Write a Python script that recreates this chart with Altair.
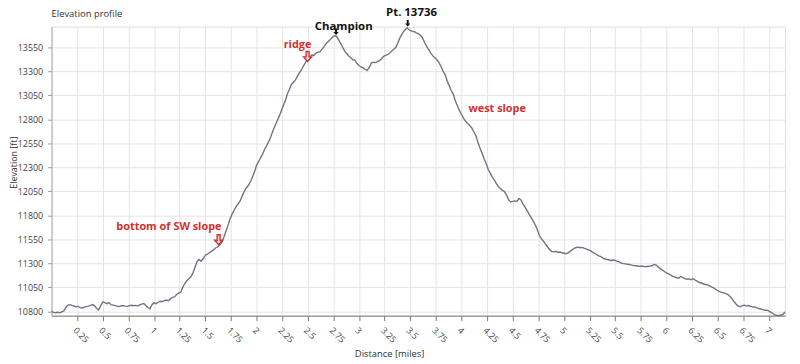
import altair as alt
import pandas as pd

# ---- elevation profile (miles, feet) ----
dist = [
    0.00, 0.02, 0.04, 0.06, 0.08, 0.10, 0.12, 0.14, 0.16, 0.18, 0.20, 0.22, 0.24, 0.26, 0.28,
    0.30, 0.32, 0.34, 0.36, 0.38, 0.40, 0.42, 0.44, 0.46, 0.48, 0.50, 0.52, 0.54, 0.56, 0.58,
    0.60, 0.62, 0.64, 0.66, 0.68, 0.70, 0.72, 0.74, 0.76, 0.78, 0.80, 0.82, 0.84, 0.86, 0.88,
    0.90, 0.92, 0.94, 0.96, 0.98, 1.00, 1.02, 1.04, 1.06, 1.08, 1.10, 1.12, 1.14, 1.16, 1.18,
    1.20, 1.22, 1.24, 1.26, 1.28, 1.30, 1.32, 1.34, 1.36, 1.38, 1.40, 1.42, 1.44, 1.46, 1.48,
    1.50, 1.52, 1.54, 1.56, 1.58, 1.60, 1.62, 1.64, 1.66, 1.68, 1.70, 1.72, 1.74, 1.76, 1.78,
    1.80, 1.82, 1.84, 1.86, 1.88, 1.90, 1.92, 1.94, 1.96, 1.98, 2.00, 2.02, 2.04, 2.06, 2.08,
    2.10, 2.12, 2.14, 2.16, 2.18, 2.20, 2.22, 2.24, 2.26, 2.28, 2.30, 2.32, 2.34, 2.36, 2.38,
    2.40, 2.42, 2.44, 2.46, 2.48, 2.50, 2.52, 2.54, 2.56, 2.58, 2.60, 2.62, 2.64, 2.66, 2.68,
    2.70, 2.72, 2.74, 2.76, 2.78, 2.80, 2.82, 2.84, 2.86, 2.88, 2.90, 2.92, 2.94, 2.96, 2.98,
    3.00, 3.02, 3.04, 3.06, 3.08, 3.10, 3.12, 3.14, 3.16, 3.18, 3.20, 3.22, 3.24, 3.26, 3.28,
    3.30, 3.32, 3.34, 3.36, 3.38, 3.40, 3.42, 3.44, 3.46, 3.47, 3.48, 3.50, 3.52, 3.54, 3.56,
    3.58, 3.60, 3.62, 3.64, 3.66, 3.68, 3.70, 3.72, 3.74, 3.76, 3.78, 3.80, 3.82, 3.84, 3.86,
    3.88, 3.90, 3.92, 3.94, 3.96, 3.98, 4.00, 4.02, 4.04, 4.06, 4.08, 4.10, 4.12, 4.14, 4.16,
    4.18, 4.20, 4.22, 4.24, 4.26, 4.28, 4.30, 4.32, 4.34, 4.36, 4.38, 4.40, 4.42, 4.44, 4.46,
    4.48, 4.50, 4.52, 4.54, 4.56, 4.58, 4.60, 4.62, 4.64, 4.66, 4.68, 4.70, 4.72, 4.74, 4.76,
    4.78, 4.80, 4.82, 4.84, 4.86, 4.88, 4.90, 4.92, 4.94, 4.96, 4.98, 5.00, 5.02, 5.04, 5.06,
    5.08, 5.10, 5.12, 5.14, 5.16, 5.18, 5.20, 5.22, 5.24, 5.26, 5.28, 5.30, 5.32, 5.34, 5.36,
    5.38, 5.40, 5.42, 5.44, 5.46, 5.48, 5.50, 5.52, 5.54, 5.56, 5.58, 5.60, 5.62, 5.64, 5.66,
    5.68, 5.70, 5.72, 5.74, 5.76, 5.78, 5.80, 5.82, 5.84, 5.86, 5.88, 5.90, 5.92, 5.94, 5.96,
    5.98, 6.00, 6.02, 6.04, 6.06, 6.08, 6.10, 6.12, 6.14, 6.16, 6.18, 6.20, 6.22, 6.24, 6.26,
    6.28, 6.30, 6.32, 6.34, 6.36, 6.38, 6.40, 6.42, 6.44, 6.46, 6.48, 6.50, 6.52, 6.54, 6.56,
    6.58, 6.60, 6.62, 6.64, 6.66, 6.68, 6.70, 6.72, 6.74, 6.76, 6.78, 6.80, 6.82, 6.84, 6.86,
    6.88, 6.90, 6.92, 6.94, 6.96, 6.98, 7.00, 7.02, 7.04, 7.06, 7.08, 7.10, 7.12, 7.14, 7.155,
]
elev = [
    10800, 10790, 10785, 10790, 10785, 10795, 10805, 10840, 10865, 10870, 10862, 10855, 10848, 10852, 10838,
    10835, 10845, 10850, 10855, 10862, 10870, 10858, 10830, 10815, 10860, 10898, 10890, 10880, 10892, 10870,
    10865, 10860, 10855, 10850, 10858, 10860, 10855, 10852, 10860, 10864, 10858, 10862, 10855, 10868, 10875,
    10882, 10860, 10840, 10826, 10870, 10888, 10880, 10895, 10905, 10900, 10912, 10918, 10910, 10930, 10945,
    10950, 10975, 10990, 11000, 11050, 11090, 11120, 11140, 11160, 11200, 11260, 11320, 11340, 11322, 11350,
    11385, 11395, 11410, 11425, 11440, 11460, 11470, 11490, 11515, 11570, 11630, 11690, 11760, 11810, 11850,
    11890, 11920, 11950, 12000, 12050, 12085, 12110, 12150, 12200, 12250, 12320, 12360, 12400, 12440, 12490,
    12530, 12570, 12620, 12680, 12730, 12780, 12830, 12880, 12940, 12990, 13060, 13110, 13160, 13185, 13210,
    13250, 13285, 13320, 13360, 13395, 13430, 13455, 13470, 13465, 13490, 13500, 13505, 13530, 13560, 13590,
    13610, 13630, 13655, 13670, 13665, 13630, 13590, 13550, 13510, 13485, 13460, 13440, 13420, 13415, 13380,
    13360, 13345, 13335, 13320, 13310, 13340, 13385, 13395, 13390, 13400, 13410, 13430, 13455, 13465, 13475,
    13490, 13510, 13530, 13550, 13600, 13650, 13690, 13720, 13745, 13752, 13740, 13725, 13715, 13712, 13700,
    13690, 13675, 13645, 13600, 13560, 13525, 13490, 13460, 13440, 13420, 13390, 13350, 13300, 13265, 13200,
    13150, 13100, 13060, 12990, 12940, 12890, 12850, 12810, 12780, 12755, 12735, 12710, 12670, 12630, 12560,
    12500, 12450, 12390, 12340, 12280, 12240, 12200, 12170, 12130, 12100, 12080, 12060, 12045, 12010, 11960,
    11940, 11945, 11950, 11945, 11975, 11960, 11920, 11885, 11850, 11810, 11775, 11740, 11700, 11650, 11590,
    11555, 11530, 11500, 11470, 11445, 11425, 11420, 11425, 11415, 11418, 11410, 11405, 11400, 11410, 11425,
    11440, 11455, 11465, 11468, 11462, 11465, 11455, 11448, 11440, 11430, 11415, 11405, 11390, 11378, 11370,
    11355, 11345, 11340, 11335, 11330, 11335, 11330, 11320, 11315, 11302, 11298, 11295, 11290, 11288, 11282,
    11278, 11275, 11272, 11268, 11272, 11268, 11265, 11270, 11272, 11275, 11290, 11282, 11260, 11245, 11230,
    11215, 11200, 11190, 11178, 11165, 11160, 11150, 11145, 11165, 11150, 11140, 11135, 11138, 11130, 11140,
    11125, 11115, 11100, 11095, 11085, 11080, 11075, 11065, 11055, 11045, 11030, 11015, 11005, 10998, 10992,
    10985, 10975, 10955, 10930, 10900, 10875, 10855, 10848, 10860, 10865, 10855, 10860, 10852, 10848, 10845,
    10838, 10830, 10825, 10818, 10812, 10812, 10803, 10790, 10775, 10762, 10758, 10757, 10762, 10770, 10795,
]

# ---- annotations ----
chart_title = ["Elevation profile"]

peak_labels = ["Champion", "Pt. 13736"]
peak_label_x = [2.85, 3.512]
peak_label_y = [13763, 13905]
peak_arrow_x = [2.776, 3.475]
peak_arrow_y = [13712, 13800]

feature_labels = ["ridge", "bottom of SW slope", "west slope"]
feature_label_x = [2.40, 1.145, 4.348]
feature_label_y = [13578, 11675, 12902]
feature_arrow_x = [2.498, 1.63]
feature_arrow_y = [13455, 11546]

x_ticks = [0.25, 0.5, 0.75, 1, 1.25, 1.5, 1.75, 2, 2.25, 2.5, 2.75, 3, 3.25, 3.5,
           3.75, 4, 4.25, 4.5, 4.75, 5, 5.25, 5.5, 5.75, 6, 6.25, 6.5, 6.75, 7]
y_ticks = [10800, 11050, 11300, 11550, 11800, 12050, 12300, 12550, 12800, 13050, 13300, 13550]

profile = pd.DataFrame({"dist": dist, "elev": elev})
title_df = pd.DataFrame({"t": chart_title})
peaks = pd.DataFrame({"label": peak_labels, "x": peak_label_x, "y": peak_label_y})
peak_arrows = pd.DataFrame({"x": peak_arrow_x, "y": peak_arrow_y})
features = pd.DataFrame({"label": feature_labels, "x": feature_label_x, "y": feature_label_y})
feature_arrows = pd.DataFrame({"x": feature_arrow_x, "y": feature_arrow_y})

FONT = "Open Sans"
xscale = alt.Scale(domain=[0, 7.157], nice=False, zero=False)
yscale = alt.Scale(domain=[10755, 13765], nice=False, zero=False)

x_axis = alt.Axis(
    values=x_ticks, tickCount=40, format=".4~g", labelAngle=45, labelAlign="left",
    labelBaseline="top", labelPadding=5, labelOverlap=False, labelFlush=False, tickSize=5,
    tickColor="#777", domainColor="#777", labelFont=FONT, labelFontSize=9, labelColor="#444",
    titleFont=FONT, titleFontSize=9.5, titleFontWeight="normal", titleColor="#333",
    titleX=341, titleY=38, titleBaseline="middle", gridColor="#e4e4e4",
)
y_axis = alt.Axis(
    values=y_ticks, tickCount=40, format="d", tickSize=4, tickColor="#999", domainColor="#aaa",
    labelPadding=5, labelOverlap=False, labelFlush=False, labelFont=FONT,
    labelFontSize=9, labelColor="#444", titleFont=FONT, titleFontSize=9,
    titleFontWeight="normal", titleColor="#333", titleX=-38, titleY=137,
    titleBaseline="middle", gridColor="#e4e4e4",
)

x_enc = alt.X("dist:Q", scale=xscale, title="Distance [miles]", axis=x_axis)
y_enc = alt.Y("elev:Q", scale=yscale, title="Elevation [ft]", axis=y_axis)

line = alt.Chart(profile).mark_line(color="#727287", strokeWidth=1.4).encode(x=x_enc, y=y_enc)

title_text = alt.Chart(title_df).mark_text(
    font=FONT, fontSize=9.5, color="#333", align="left", baseline="middle"
).encode(x=alt.value(0), y=alt.value(-13), text="t:N")

peak_text = alt.Chart(peaks).mark_text(
    font=FONT, fontSize=11.5, fontWeight="bold", color="#111", baseline="middle"
).encode(x="x:Q", y="y:Q", text="label:N")

feature_text = alt.Chart(features).mark_text(
    font=FONT, fontSize=11, fontWeight="bold", color="#d2312f", baseline="middle"
).encode(x="x:Q", y="y:Q", text="label:N")

arrow_path = "M-0.3,-1 L0.3,-1 L0.3,0.1 L0.8,0.1 L0,1 L-0.8,0.1 L-0.3,0.1 Z"

peak_arrow_marks = alt.Chart(peak_arrows).mark_point(
    shape=arrow_path, size=45, filled=True, color="#111", opacity=1
).encode(x="x:Q", y="y:Q")

feature_arrow_marks = alt.Chart(feature_arrows).mark_point(
    shape=arrow_path, size=100, filled=True, fill="#f6d6d6", stroke="#d2312f",
    strokeWidth=1.4, opacity=1
).encode(x="x:Q", y="y:Q")

chart = alt.layer(
    line, title_text, peak_text, feature_text, peak_arrow_marks, feature_arrow_marks
).properties(
    width=741, height=292,
    padding={"left": 44, "top": 17, "right": 7, "bottom": 47},
    autosize="none",
).configure_view(stroke="#e0e0e0").configure(background="white")

chart.save("out.html", embed_options={"renderer": "svg", "actions": False})
